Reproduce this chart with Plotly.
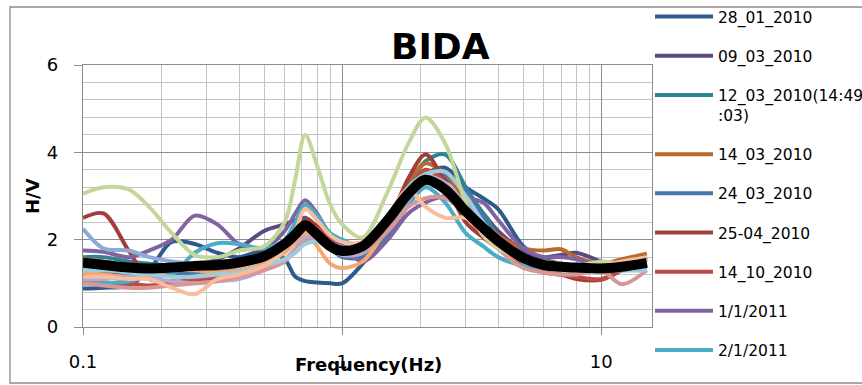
import math
import plotly.graph_objects as go

# ---------------- data ----------------
freq = [0.1, 0.12, 0.15, 0.18, 0.22, 0.27, 0.33, 0.4, 0.5, 0.6, 0.66, 0.72, 0.8, 0.9,
        1.0, 1.2, 1.5, 1.8, 2.1, 2.5, 3.0, 3.5, 4.0, 5, 6, 7, 8, 10, 12, 15]

s_28_01_2010 = [0.88, 0.9, 0.95, 1.3, 1.95, 1.9, 1.7, 1.6, 1.75, 1.55, 1.15, 1.05, 1.02, 1.0,
                1.0, 1.45, 2.2, 3.0, 3.5, 3.65, 3.2, 2.95, 2.7, 1.85, 1.55, 1.45, 1.4, 1.35, 1.4, 1.45]
s_09_03_2010 = [1.3, 1.25, 1.2, 1.25, 1.3, 1.4, 1.55, 1.8, 2.2, 2.35, 2.45, 2.5, 2.3, 2.0,
                1.85, 1.8, 2.2, 2.8, 3.3, 3.4, 3.0, 2.6, 2.2, 1.75, 1.6, 1.65, 1.7, 1.5, 1.4, 1.45]
s_12_03_2010 = [1.6, 1.6, 1.5, 1.45, 1.4, 1.4, 1.45, 1.5, 1.6, 1.85, 2.1, 2.35, 2.25, 1.95,
                1.8, 1.85, 2.4, 3.2, 3.8, 3.95, 3.2, 2.6, 2.1, 1.6, 1.45, 1.4, 1.35, 1.3, 1.35, 1.4]
s_14_03_2010 = [1.55, 1.5, 1.4, 1.35, 1.3, 1.3, 1.35, 1.4, 1.6, 1.9, 2.2, 2.45, 2.3, 1.95,
                1.75, 1.8, 2.5, 3.3, 3.75, 3.5, 2.9, 2.4, 2.1, 1.8, 1.75, 1.78, 1.6, 1.45, 1.55, 1.68]
s_24_03_2010 = [1.2, 1.15, 1.1, 1.15, 1.2, 1.25, 1.3, 1.4, 1.55, 1.75, 1.95, 2.15, 2.05, 1.8,
                1.6, 1.6, 2.1, 2.8, 3.3, 3.5, 3.1, 2.5, 2.0, 1.55, 1.4, 1.35, 1.35, 1.3, 1.3, 1.35]
s_25_04_2010 = [2.5, 2.6, 1.75, 1.1, 1.05, 1.05, 1.1, 1.2, 1.4, 1.8, 2.1, 2.45, 2.3, 2.0,
                1.85, 1.8, 2.4, 3.4, 3.95, 3.3, 2.4, 2.05, 1.8, 1.45, 1.25, 1.2, 1.1, 1.08, 1.3, 1.6]
s_14_10_2010 = [1.0, 1.0, 1.0, 0.95, 1.0, 1.1, 1.15, 1.25, 1.45, 1.75, 2.0, 2.35, 2.25, 2.0,
                1.85, 1.8, 2.3, 3.1, 3.6, 3.3, 2.6, 2.1, 1.8, 1.45, 1.25, 1.2, 1.15, 1.1, 1.3, 1.55]
s_1_1_2011 = [1.75, 1.72, 1.6, 1.75, 2.0, 2.55, 2.35, 1.9, 1.8, 2.2, 2.6, 2.9, 2.6, 2.1,
              1.85, 1.5, 2.0, 2.6, 2.85, 3.0, 2.95, 2.85, 2.45, 1.8, 1.6, 1.6, 1.55, 1.4, 1.35, 1.45]
s_2_1_2011 = [1.0, 1.0, 1.05, 1.15, 1.2, 1.7, 1.92, 1.9, 1.8, 2.0, 2.4, 2.8, 2.55, 2.15,
              2.0, 1.85, 2.2, 2.8, 3.2, 2.85, 2.15, 1.85, 1.6, 1.4, 1.35, 1.3, 1.3, 1.3, 1.3, 1.3]
# further records (not listed in the legend)
s_extra_steel = [2.25, 1.8, 1.75, 1.6, 1.5, 1.45, 1.45, 1.5, 1.6, 1.75, 2.0, 2.2, 2.1, 1.85,
                 1.7, 1.7, 2.2, 2.9, 3.3, 3.2, 2.7, 2.3, 1.95, 1.5, 1.4, 1.35, 1.35, 1.3, 1.3, 1.35]
s_extra_lightorange = [1.25, 1.2, 1.15, 1.2, 1.3, 1.3, 1.25, 1.3, 1.45, 1.7, 1.95, 2.15, 1.85, 1.45,
                       1.35, 1.5, 2.3, 3.1, 3.4, 3.1, 2.6, 2.2, 1.85, 1.5, 1.4, 1.4, 1.4, 1.4, 1.45, 1.5]
s_extra_lavender = [1.1, 1.1, 1.15, 1.1, 1.05, 1.0, 1.05, 1.1, 1.3, 1.55, 1.8, 2.05, 2.0, 1.8,
                    1.65, 1.7, 2.4, 3.1, 3.45, 3.3, 2.8, 2.3, 1.95, 1.5, 1.4, 1.35, 1.35, 1.35, 1.4, 1.45]
s_extra_pink = [1.0, 0.95, 0.9, 0.9, 0.95, 1.0, 1.05, 1.15, 1.3, 1.5, 1.75, 1.95, 1.95, 1.8,
                1.75, 1.75, 2.2, 2.75, 2.95, 2.95, 2.6, 2.2, 1.8, 1.35, 1.25, 1.2, 1.2, 1.3, 0.98, 1.3]
s_extra_lightblue = [1.3, 1.3, 1.25, 1.2, 1.15, 1.15, 1.2, 1.25, 1.4, 1.55, 1.7, 1.9, 1.95, 1.85,
                     1.8, 1.85, 2.5, 3.2, 3.5, 3.55, 3.0, 2.4, 2.0, 1.5, 1.35, 1.3, 1.3, 1.3, 1.3, 1.3]
s_extra_green = [3.05, 3.2, 3.15, 2.75, 2.15, 1.65, 1.6, 1.75, 1.85, 2.4, 3.4, 4.4, 3.7, 2.8,
                 2.35, 2.05, 3.1, 4.2, 4.8, 4.2, 2.85, 2.1, 1.8, 1.6, 1.5, 1.45, 1.4, 1.5, 1.45, 1.5]
s_extra_peach = [1.15, 1.15, 1.1, 1.1, 0.9, 0.75, 1.1, 1.2, 1.4, 1.8, 2.2, 2.7, 2.45, 2.1,
                 1.95, 1.95, 2.55, 3.15, 2.75, 2.5, 2.5, 2.15, 1.85, 1.55, 1.45, 1.45, 1.4, 1.4, 1.5, 1.6]
s_mean = [1.47, 1.42, 1.36, 1.34, 1.36, 1.4, 1.42, 1.48, 1.62, 1.9, 2.12, 2.33, 2.12, 1.85,
          1.74, 1.85, 2.45, 3.05, 3.37, 3.15, 2.65, 2.27, 1.97, 1.58, 1.42, 1.38, 1.36, 1.34, 1.38, 1.47]

legend_names = ["28_01_2010", "09_03_2010", "12_03_2010(14:49<br>:03)", "14_03_2010",
                "24_03_2010", "25-04_2010", "14_10_2010", "1/1/2011", "2/1/2011"]
legend_series = [s_28_01_2010, s_09_03_2010, s_12_03_2010, s_14_03_2010, s_24_03_2010,
                 s_25_04_2010, s_14_10_2010, s_1_1_2011, s_2_1_2011]
legend_colors = ["#2F5A8C", "#5B4A80", "#2E8494", "#B96A2C", "#4775AC",
                 "#A23E3A", "#BE4B48", "#8064A2", "#4BACC6"]

extra_series = [s_extra_steel, s_extra_lightorange, s_extra_lavender, s_extra_pink,
                s_extra_lightblue, s_extra_green, s_extra_peach]
extra_colors = ["#8EA9D6", "#F6A870", "#B8A7CF", "#D99694", "#9DCCDC", "#C3D69B", "#F8BE9C"]

FONT = "DejaVu Sans"

fig = go.Figure()
for i, (name, vals, col) in enumerate(zip(legend_names, legend_series, legend_colors)):
    fig.add_trace(go.Scatter(x=freq, y=vals, mode="lines", name=name, legendgroup="g%d" % i,
                             line=dict(color=col, width=4, shape="spline", smoothing=0.9)))
for vals, col in zip(extra_series, extra_colors):
    fig.add_trace(go.Scatter(x=freq, y=vals, mode="lines", showlegend=False,
                             line=dict(color=col, width=4, shape="spline", smoothing=0.9)))
fig.add_trace(go.Scatter(x=freq, y=s_mean, mode="lines", showlegend=False,
                         line=dict(color="black", width=10, shape="spline", smoothing=0.9)))

# plot area in pixels: x 83..652, y 65..327
L, R, T, B = 83, 652, 65, 327
W, H = 862, 385
pw, ph = R - L, B - T

def px(x):
    return (x - L) / pw

def py(y):
    return (B - y) / ph

MAJ = "#8C8C8C"
MIN = "#C4C4C4"

fig.update_layout(
    width=W, height=H, autosize=False,
    margin=dict(l=L, r=W - R, t=T, b=H - B, autoexpand=False),
    paper_bgcolor="white", plot_bgcolor="white",
    font=dict(family=FONT, color="black"),
    xaxis=dict(type="log", range=[-1, math.log10(15.7)], dtick=1, tick0=0,
               ticks="outside", ticklen=7, tickcolor=MAJ, tickwidth=1.3,
               showgrid=True, gridcolor=MAJ, gridwidth=1.3,
               minor=dict(dtick="D1", showgrid=True, gridcolor=MIN, gridwidth=1.3, ticks=""),
               showline=True, linecolor=MAJ, linewidth=1.3, mirror=True, zeroline=False,
               tickfont=dict(family=FONT, size=18, color="black"), ticklabelstandoff=11),
    yaxis=dict(range=[0, 6], dtick=2, tick0=0,
               ticks="outside", ticklen=8, tickcolor=MAJ, tickwidth=1.3,
               showgrid=True, gridcolor=MAJ, gridwidth=1.3,
               minor=dict(dtick=0.4, tick0=0, showgrid=True, gridcolor=MIN, gridwidth=1.3, ticks=""),
               showline=True, linecolor=MAJ, linewidth=1.3, mirror=True, zeroline=False,
               tickfont=dict(family=FONT, size=18, color="black"), ticklabelstandoff=12),
    legend=dict(x=px(650), y=py(0), xanchor="left", yanchor="top",
                font=dict(family=FONT, size=15.5, color="black"),
                bgcolor="rgba(0,0,0,0)", itemwidth=58, valign="top",
                traceorder="grouped", tracegroupgap=16, maxheight=500),
    showlegend=True,
)

fig.add_annotation(text="<b>BIDA</b>", x=px(440), y=py(46), xref="paper", yref="paper",
                   xanchor="center", yanchor="middle", showarrow=False,
                   font=dict(family=FONT, size=36, color="black"))
fig.add_annotation(text="<b>H/V</b>", x=px(32), y=0.5, xref="paper", yref="paper",
                   xanchor="center", yanchor="middle", showarrow=False, textangle=-90,
                   font=dict(family=FONT, size=18, color="black"))
fig.add_annotation(text="<b>Frequency(Hz)</b>", x=px(368), y=py(364), xref="paper", yref="paper",
                   xanchor="center", yanchor="middle", showarrow=False,
                   font=dict(family=FONT, size=18, color="black"))

# outer chart frame
fig.add_shape(type="rect", xref="paper", yref="paper",
              x0=px(10), x1=px(875), y0=py(383), y1=py(7),
              line=dict(color="#8C8C8C", width=1.3), fillcolor="rgba(0,0,0,0)", layer="below")

fig.write_html("out.html", config={"displayModeBar": False},
               post_script="document.body.style.margin='0px';")
